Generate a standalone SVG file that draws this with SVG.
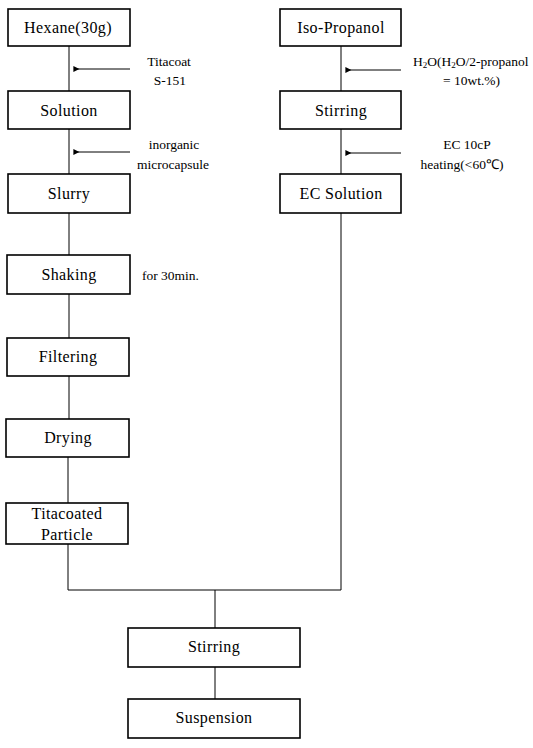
<svg xmlns="http://www.w3.org/2000/svg" width="533" height="748" viewBox="0 0 533 748">
<defs>
<marker id="ah" viewBox="0 0 10 10" refX="9" refY="5" markerWidth="8" markerHeight="6" orient="auto" markerUnits="userSpaceOnUse">
<path d="M10,0 L0,5 L10,10 z" fill="#000"/>
</marker>
<style>
.box{fill:#fff;stroke:#000;stroke-width:1.6}
.t{font-family:"Liberation Serif","Times New Roman",serif;font-size:16px;letter-spacing:0.4px;fill:#000;text-anchor:middle}
.a{font-family:"Liberation Serif","Times New Roman",serif;font-size:13.5px;fill:#000}
.m{text-anchor:middle}
.ln{stroke:#000;stroke-width:1;fill:none}
.ar{stroke:#000;stroke-width:1;fill:none;marker-end:url(#ah)}
</style>
</defs>
<rect width="533" height="748" fill="#fff"/>
<g id="connectors">
<line class="ln" x1="69" y1="46" x2="69" y2="91"/>
<line class="ln" x1="69" y1="129" x2="69" y2="174"/>
<line class="ln" x1="69" y1="213" x2="69" y2="255"/>
<line class="ln" x1="69" y1="294" x2="69" y2="338"/>
<line class="ln" x1="69" y1="376" x2="69" y2="419"/>
<line class="ln" x1="68" y1="457" x2="68" y2="503"/>
<line class="ln" x1="68" y1="544" x2="68" y2="590"/>
<line class="ln" x1="341" y1="46" x2="341" y2="91"/>
<line class="ln" x1="341" y1="129" x2="341" y2="174"/>
<line class="ln" x1="341" y1="213" x2="341" y2="590"/>
<line class="ln" x1="68" y1="590" x2="341" y2="590"/>
<line class="ln" x1="215" y1="590" x2="215" y2="628"/>
<line class="ln" x1="215" y1="667" x2="215" y2="699"/>
<line class="ar" x1="130" y1="69" x2="74" y2="69"/>
<line class="ar" x1="130" y1="152" x2="74" y2="152"/>
<line class="ar" x1="401" y1="70" x2="346" y2="70"/>
<line class="ar" x1="401" y1="153" x2="346" y2="153"/>
</g>
<g id="hexane"><rect class="box" x="8" y="9" width="122" height="37"/><text class="t" x="68" y="33">Hexane(30g)</text></g>
<g id="solution"><rect class="box" x="8" y="91" width="122" height="38"/><text class="t" x="69" y="115.5">Solution</text></g>
<g id="slurry"><rect class="box" x="8" y="174" width="122" height="39"/><text class="t" x="69" y="199">Slurry</text></g>
<g id="shaking"><rect class="box" x="7" y="255" width="123" height="39"/><text class="t" x="69" y="280">Shaking</text></g>
<g id="filtering"><rect class="box" x="7" y="338" width="122" height="38"/><text class="t" x="68" y="362">Filtering</text></g>
<g id="drying"><rect class="box" x="6" y="419" width="123" height="38"/><text class="t" x="68" y="443">Drying</text></g>
<g id="titacoated"><rect class="box" x="6" y="503" width="122" height="41"/><text class="t" x="67" y="519">Titacoated</text><text class="t" x="67" y="540">Particle</text></g>
<g id="isopropanol"><rect class="box" x="280" y="9" width="121" height="37"/><text class="t" x="341" y="33">Iso-Propanol</text></g>
<g id="stirring1"><rect class="box" x="280" y="91" width="121" height="38"/><text class="t" x="341" y="115.5">Stirring</text></g>
<g id="ecsolution"><rect class="box" x="280" y="174" width="121" height="39"/><text class="t" x="341" y="199">EC Solution</text></g>
<g id="stirring2"><rect class="box" x="128" y="628" width="172" height="39"/><text class="t" x="214" y="652">Stirring</text></g>
<g id="suspension"><rect class="box" x="128" y="699" width="172" height="39"/><text class="t" x="214" y="723">Suspension</text></g>
<g id="labels">
<text class="a m" x="169" y="66">Titacoat</text>
<text class="a m" x="170" y="85">S-151</text>
<text class="a m" x="174" y="149">inorganic</text>
<text class="a m" x="173" y="169">microcapsule</text>
<text class="a" x="142" y="280">for 30min.</text>
<text class="a" x="413" y="66">H<tspan font-size="9" dy="2">2</tspan><tspan dy="-2">O(H</tspan><tspan font-size="9" dy="2">2</tspan><tspan dy="-2">O/2-propanol</tspan></text>
<text class="a" x="443" y="85">=  10wt.%)</text>
<text class="a m" x="467" y="149">EC  10cP</text>
<text class="a m" x="462" y="169">heating(&lt;60℃)</text>
</g>
</svg>
